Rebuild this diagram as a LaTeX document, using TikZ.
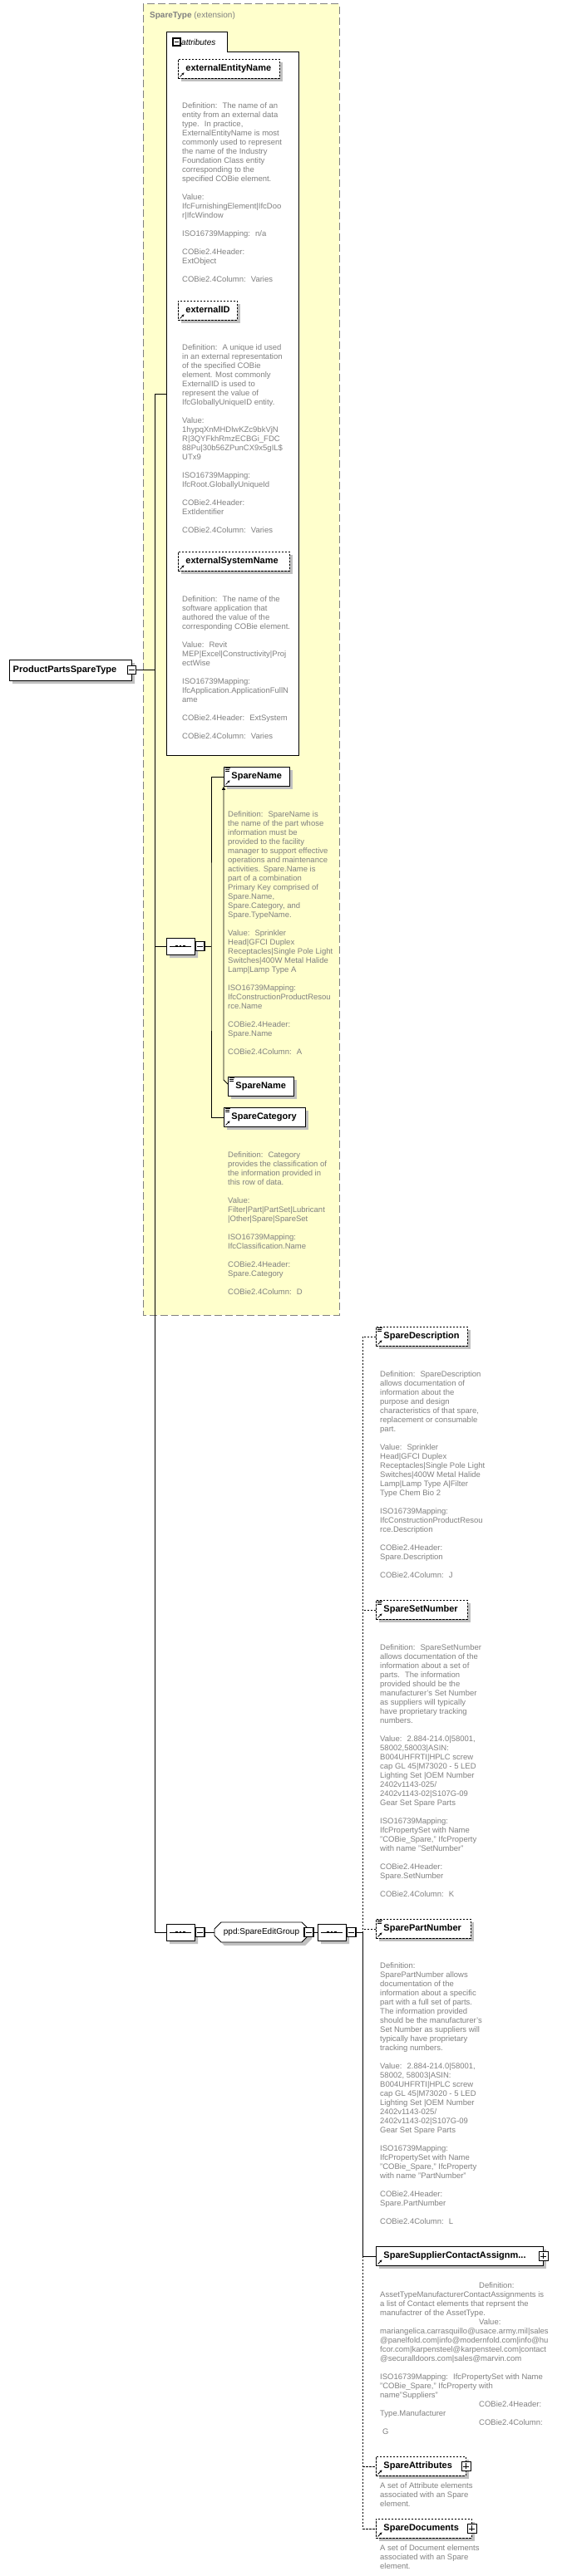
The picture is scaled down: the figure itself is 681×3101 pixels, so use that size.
\documentclass[tikz,border=0pt]{standalone}
\usepackage{fontspec}
\setmainfont{Liberation Sans}
\usetikzlibrary{shapes.misc, arrows.meta, positioning, calc, shadows}
\definecolor{xsdYellow}{RGB}{255,255,204}
\definecolor{xsdFrame}{RGB}{128,128,128}
\definecolor{xsdShadow}{RGB}{192,192,192}
\definecolor{xsdDoc}{RGB}{128,128,128}
\newcommand{\nameFont}{\bfseries\fontsize{11}{13}\selectfont}
\newcommand{\docFont}{\fontsize{9.5}{11}\selectfont}
\newcommand{\gap}{\\[11pt]}
\newcommand{\ind}{\hspace*{119pt}}

\tikzset{
  boxshadow/.style={drop shadow={shadow xshift=4pt, shadow yshift=-4pt, fill=xsdShadow, opacity=1}},
  elembox/.style={draw, fill=white, line width=0.9pt, boxshadow, anchor=north west,
    minimum height=23pt, inner xsep=0pt, inner ysep=0pt, text width=#1, align=left,
    text height=8pt, text depth=2.5pt, font=\nameFont, execute at begin node={\hspace*{9pt}}},
  optbox/.style={elembox=#1, dash pattern=on 2.5pt off 1.5pt},
  doc/.style={anchor=north west, inner sep=0pt, align=left, text=xsdDoc, font=\docFont},
  conn/.style={draw, line width=0.9pt},
  optconn/.style={conn, dash pattern=on 2.5pt off 1.5pt},
  minusbox/.style={draw, fill=white, line width=1.1pt, minimum size=#1, inner sep=0pt,
    path picture={\draw[line width=0.9pt] ([xshift=2pt]path picture bounding box.west) -- ([xshift=-2pt]path picture bounding box.east);}},
  minusbox/.default=11pt,
  plusbox/.style={draw, fill=white, line width=1.1pt, minimum size=11pt, inner sep=0pt,
    path picture={\draw[line width=0.9pt] ([xshift=2pt]path picture bounding box.west) -- ([xshift=-2pt]path picture bounding box.east)
      ([yshift=-2pt]path picture bounding box.north) -- ([yshift=2pt]path picture bounding box.south);}},
  seqbox/.style={chamfered rectangle, chamfered rectangle sep=5pt, draw, fill=white, line width=0.9pt,
    minimum width=34pt, minimum height=20pt, inner sep=0pt, boxshadow},
  rootbox/.style={chamfered rectangle, chamfered rectangle corners={north west,south west},
    chamfered rectangle sep=5pt, draw, fill=white, line width=0.9pt,
    minimum width=147pt, minimum height=25pt, inner sep=0pt, boxshadow},
  grpbox/.style={chamfered rectangle, chamfered rectangle sep=4pt, draw, fill=white, line width=0.9pt,
    minimum width=113pt, minimum height=24pt, inner sep=0pt, boxshadow, font=\fontsize{10}{12}\selectfont},
  extframe/.style={draw=xsdFrame, fill=xsdYellow, line width=1pt, dash pattern=on 9pt off 4pt},
  refarrow/.pic={\draw[line width=0.8pt, -{Stealth[length=3pt,width=3pt]}] (2.5,-2.5) -- (7.5,-7.5);},
  typelines/.pic={\draw[line width=0.6pt] (2,1.5) -- ++(6,0) (2,3.5) -- ++(5,0) (2,5.5) -- ++(5,0);},
  seqdots/.pic={\draw[line width=0.9pt] (-13,0) -- (13,0);
    \foreach \dx in {-4.5,0,4.5} \fill (\dx-1.4,-1.4) rectangle (\dx+1.4,1.4);}
}

\begin{document}
\begin{tikzpicture}[x=1pt, y=-1pt]
\useasboundingbox (0,0) rectangle (681,3101);

% extension frame
\draw[extframe] (172,5) rectangle (408,1583);
\node[anchor=west, inner sep=0pt, text=xsdFrame, font=\fontsize{10}{12}\selectfont] (sparetype) at (180,19) {\textbf{SpareType} (extension)};

% attributes
\draw[fill=white, line width=0.9pt] (200,909) -- (200,38) -- (273,38) -- (273,62) -- (359,62) -- (359,909) -- cycle;
\node[minusbox=9pt] (attrm) at (212.5,50.5) {};
\node[anchor=west, inner sep=0pt, font=\itshape\fontsize{10}{12}\selectfont] (attrlbl) at (218,50.5) {attributes};
\coordinate (attrW) at (200,474);

\node[optbox=122pt] (een) at (214,71) {externalEntityName};
\pic at (een.south west) {refarrow};
\node[doc] (deen) at (219,123.5) {Definition:~ The name of an\\
entity from an external data\\
type.~ In practice,\\
ExternalEntityName is most\\
commonly used to represent\\
the name of the Industry\\
Foundation Class entity\\
corresponding to the\\
specified COBie element.\gap
Value:\\
IfcFurnishingElement|IfcDoo\\
r|IfcWindow\gap
ISO16739Mapping:~ n/a\gap
COBie2.4Header:\\
ExtObject\gap
COBie2.4Column:~ Varies};

\node[optbox=71pt] (eid) at (214,362) {externalID};
\pic at (eid.south west) {refarrow};
\node[doc] (deid) at (219,414.5) {Definition:~ A unique id used\\
in an external representation\\
of the specified COBie\\
element. Most commonly\\
ExternalID is used to\\
represent the value of\\
IfcGloballyUniqueID entity.\gap
Value:\\
1hypqXnMHDlwKZc9bkVjN\\
R|3QYFkhRmzECBGi\_FDC\\
88Pu|30b56ZPunCX9x5gIL\$\\
UTx9\gap
ISO16739Mapping:\\
IfcRoot.GloballyUniqueId\gap
COBie2.4Header:\\
ExtIdentifier\gap
COBie2.4Column:~ Varies};

\node[optbox=134pt] (esn) at (214,664) {externalSystemName};
\pic at (esn.south west) {refarrow};
\node[doc] (desn) at (219,717.5) {Definition:~ The name of the\\
software application that\\
authored the value of the\\
corresponding COBie element.\gap
Value:~ Revit\\
MEP|Excel|Constructivity|Proj\\
ectWise\gap
ISO16739Mapping:\\
IfcApplication.ApplicationFullN\\
ame\gap
COBie2.4Header:~ ExtSystem\gap
COBie2.4Column:~ Varies};

% root type
\node[rootbox] (root) at (84.5,806.5) {};
\node[anchor=west, inner sep=0pt, font=\nameFont] (rootlbl) at ([xshift=5pt]root.west) {ProductPartsSpareType};
\node[minusbox=10.5pt] (rootm) at (root.east) {};

% first sequence
\node[seqbox] (seqa) at (217,1139) {};
\pic at (seqa.center) {seqdots};
\node[minusbox, right=0pt of seqa] (seqam) {};

\node[elembox=79pt] (sn) at (269,923) {SpareName};
\pic at (sn.north west) {typelines};
\pic at (sn.south west) {refarrow};
\node[doc] (dsn) at (274,976.5) {Definition:~ SpareName is\\
the name of the part whose\\
information must be\\
provided to the facility\\
manager to support effective\\
operations and maintenance\\
activities. Spare.Name is\\
part of a combination\\
Primary Key comprised of\\
Spare.Name,\\
Spare.Category, and\\
Spare.TypeName.\gap
Value:~ Sprinkler\\
Head|GFCI Duplex\\
Receptacles|Single Pole Light\\
Switches|400W Metal Halide\\
Lamp|Lamp Type A\gap
ISO16739Mapping:\\
IfcConstructionProductResou\\
rce.Name\gap
COBie2.4Header:\\
Spare.Name\gap
COBie2.4Column:~ A};
\node[elembox=79pt] (sn2) at (274,1296) {SpareName};
\pic at (sn2.north west) {typelines};
\draw[conn, -{Triangle[length=4pt,width=4pt]}] ([yshift=-9pt]sn2.north west) -- ++(-5,-5) -- (sn.south west);

\node[elembox=98pt] (sc) at (269,1333) {SpareCategory};
\pic at (sc.north west) {typelines};
\pic at (sc.south west) {refarrow};
\node[doc] (dsc) at (274,1386.5) {Definition:~ Category\\
provides the classification of\\
the information provided in\\
this row of data.\gap
Value:\\
Filter|Part|PartSet|Lubricant\\
|Other|Spare|SpareSet\gap
ISO16739Mapping:\\
IfcClassification.Name\gap
COBie2.4Header:\\
Spare.Category\gap
COBie2.4Column:~ D};

% second sequence and group
\node[seqbox] (seqb) at (217,2326) {};
\pic at (seqb.center) {seqdots};
\node[minusbox, right=0pt of seqb] (seqbm) {};
\node[grpbox] (grp) at (314.5,2326) {ppd:SpareEditGroup};
\node[minusbox] (grpm) at (grp.east) {};
\node[seqbox] (seqc) at (399,2326) {};
\pic at (seqc.center) {seqdots};
\node[minusbox, right=0pt of seqc] (seqcm) {};

\node[optbox=110pt] (sd) at (452,1597) {SpareDescription};
\pic at (sd.north west) {typelines};
\pic at (sd.south west) {refarrow};
\node[doc] (dsd) at (457,1650.5) {Definition:~ SpareDescription\\
allows documentation of\\
information about the\\
purpose and design\\
characteristics of that spare,\\
replacement or consumable\\
part.\gap
Value:~ Sprinkler\\
Head|GFCI Duplex\\
Receptacles|Single Pole Light\\
Switches|400W Metal Halide\\
Lamp|Lamp Type A|Filter\\
Type Chem Bio 2\gap
ISO16739Mapping:\\
IfcConstructionProductResou\\
rce.Description\gap
COBie2.4Header:\\
Spare.Description\gap
COBie2.4Column:~ J};

\node[optbox=110pt] (ssn) at (452,1926) {SpareSetNumber};
\pic at (ssn.north west) {typelines};
\pic at (ssn.south west) {refarrow};
\node[doc] (dssn) at (457,1979.5) {Definition:~ SpareSetNumber\\
allows documentation of the\\
information about a set of\\
parts.~ The information\\
provided should be the\\
manufacturer's Set Number\\
as suppliers will typically\\
have proprietary tracking\\
numbers.\gap
Value:~ 2.884-214.0|58001,\\
58002,58003|ASIN:\\
B004UHFRTI|HPLC screw\\
cap GL 45|M73020 - 5 LED\\
Lighting Set |OEM Number\\
2402v1143-025/\\
2402v1143-02|S107G-09\\
Gear Set Spare Parts\gap
ISO16739Mapping:\\
IfcPropertySet with Name\\
"COBie\_Spare," IfcProperty\\
with name "SetNumber"\gap
COBie2.4Header:\\
Spare.SetNumber\gap
COBie2.4Column:~ K};

\node[optbox=114pt] (spn) at (452,2310) {SparePartNumber};
\pic at (spn.north west) {typelines};
\pic at (spn.south west) {refarrow};
\node[doc] (dspn) at (457,2362.5) {Definition:\\
SparePartNumber allows\\
documentation of the\\
information about a specific\\
part with a full set of parts.\\
The information provided\\
should be the manufacturer's\\
Set Number as suppliers will\\
typically have proprietary\\
tracking numbers.\gap
Value:~ 2.884-214.0|58001,\\
58002, 58003|ASIN:\\
B004UHFRTI|HPLC screw\\
cap GL 45|M73020 - 5 LED\\
Lighting Set |OEM Number\\
2402v1143-025/\\
2402v1143-02|S107G-09\\
Gear Set Spare Parts\gap
ISO16739Mapping:\\
IfcPropertySet with Name\\
"COBie\_Spare," IfcProperty\\
with name "PartNumber"\gap
COBie2.4Header:\\
Spare.PartNumber\gap
COBie2.4Column:~ L};

\node[elembox=201pt] (ssca) at (452,2704) {SpareSupplierContactAssignm...};
\pic at (ssca.south west) {refarrow};
\node[plusbox] (sscap) at (ssca.east) {};
\node[doc] (dssca) at (457,2747.5) {\ind Definition:\\
AssetTypeManufacturerContactAssignments is\\
a list of Contact elements that reprsent the\\
manufactrer of the AssetType.\\
\ind Value:\\
mariangelica.carrasquillo@usace.army.mil|sales\\
@panelfold.com|info@modernfold.com|info@hu\\
fcor.com|karpensteel@karpensteel.com|contact\\
@securalldoors.com|sales@marvin.com\gap
ISO16739Mapping:~ IfcPropertySet with Name\\
"COBie\_Spare," IfcProperty with\\
name"Suppliers"\\
\ind COBie2.4Header:\\
Type.Manufacturer\\
\ind COBie2.4Column:\\
\hspace*{3pt}G};

\node[optbox=108pt] (sat) at (452,2957) {SpareAttributes};
\pic at (sat.south west) {refarrow};
\node[plusbox] (satp) at (sat.east) {};
\node[doc] (dsat) at (457,2988.5) {A set of Attribute elements\\
associated with an Spare\\
element.};

\node[optbox=115pt] (sdoc) at (452,3032) {SpareDocuments};
\pic at (sdoc.south west) {refarrow};
\node[plusbox] (sdocp) at (sdoc.east) {};
\node[doc] (dsdoc) at (457,3063.5) {A set of Document elements\\
associated with an Spare\\
element.};

% connectors
\coordinate (trunkTop) at (186,474);
\coordinate (trunkBot) at (186,2326);
\coordinate (ja) at (254,1139);
\coordinate (jb) at (436,2326);
\draw[conn] (trunkTop) -- (trunkBot);
\draw[conn] (trunkTop) -- (attrW);
\draw[conn] (rootm.east) -- (rootm.east -| trunkTop);
\draw[conn] (seqa.west -| trunkTop) -- (seqa.west);
\draw[conn] (seqb.west -| trunkTop) -- (seqb.west);
\draw[conn] (seqam.east) -- (ja);
\draw[conn] (sn.west) -| (ja) |- (sc.west);
\draw[conn] (seqbm.east) -- (grp.west);
\draw[conn] (grpm.east) -- (seqc.west);
\draw[conn] (seqcm.east) -- (jb);
\draw[optconn] (sd.west) -| (jb);
\draw[optconn] (ssn.west) -- (ssn.west -| jb);
\draw[optconn] (spn.west) -- (spn.west -| jb);
\draw[conn] (jb) |- (ssca.west);
\draw[optconn] (ssca.west -| jb) |- (sdoc.west);
\draw[optconn] (sat.west -| jb) -- (sat.west);
\end{tikzpicture}
\end{document}
